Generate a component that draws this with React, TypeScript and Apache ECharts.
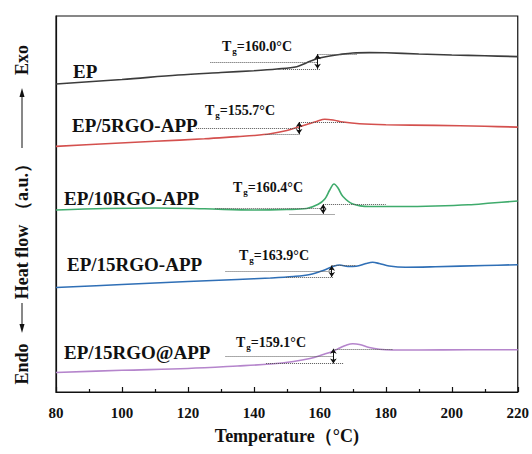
import React, { useEffect, useRef } from 'react';
import * as echarts from 'echarts';

// ---- data (temperature in °C, heat flow in arbitrary units, curves offset) ----
const sampleNames = ['EP', 'EP/5RGO-APP', 'EP/10RGO-APP', 'EP/15RGO-APP', 'EP/15RGO@APP'];
const tgValues = ['160.0', '155.7', '160.4', '163.9', '159.1'];
const xTicks = [80, 100, 120, 140, 160, 180, 200, 220];

const tEP = [80, 100, 117, 130, 140, 147, 153, 156, 159.5, 163, 166, 170, 175, 180, 190, 200, 210, 220];
const hfEP = [308, 312.5, 317, 319.5, 321.3, 323, 325.3, 329.3, 333.7, 336, 337.5, 339, 339.4, 339.2, 338, 337, 336.2, 335.4];

const t5 = [80, 95, 110, 125, 135, 140, 145, 150, 153, 156, 159, 161.5, 164, 167, 172, 180, 195, 210, 220];
const hf5 = [245.6, 248.2, 250.7, 253.2, 255.4, 256.5, 258.3, 261.5, 264.5, 267.5, 270.5, 272.8, 272, 270, 268.2, 267.2, 266.6, 265.7, 264.9];

const t10 = [80, 95, 110, 125, 140, 150, 156, 159.5, 161.5, 163, 164.3, 165.5, 167, 170, 175, 185, 195, 205, 212, 220];
const hf10 = [182, 183.5, 184, 183.2, 182, 182.5, 183.5, 187.7, 193, 202, 208, 204, 195.5, 188, 185.5, 185.5, 186, 187.2, 189, 191];

const t15 = [80, 100, 120, 135, 145, 152, 157, 161, 164, 166, 168.5, 171, 174, 176, 178, 181, 186, 195, 210, 220];
const hf15 = [104.5, 107.5, 110.5, 112.5, 114, 115.5, 117.5, 121.5, 125.5, 127, 125.5, 125.7, 128.5, 129.7, 128.5, 126, 124.7, 125.2, 126.5, 127.3];

const t15at = [80, 100, 120, 135, 145, 152, 157, 161, 164, 166, 168, 170, 172, 175, 178, 182, 190, 205, 220];
const hf15at = [19.5, 21.7, 23.5, 26, 28, 30.5, 33.5, 37.5, 40.8, 44, 46.8, 48.2, 47.5, 44.5, 42.7, 42, 42, 42.2, 42.2];

// Tg construction lines
const arrowT = [159.3, 153.7, 161, 163.6, 164.1];
const upperLevel = [337.8, 270, 187.7, 126.3, 43.2];
const lowerLevel = [323.2, 258.1, 178.2, 115.1, 28.6];
const longLevel = [330, 263.9, 183.6, 121.2, 35.8];
const longStart = [126.8, 122.4, 128.3, 131.4, 131.4];
const upperEnd = [171.3, 167.7, 180, 171, 182];
const lowerStart = [148.8, 143.5, 150.8, 149.8, 143.7];
const lowerEnd = [160, 154, 164.6, 164, 167.2];

const temps = [tEP, t5, t10, t15, t15at];
const flows = [hfEP, hf5, hf10, hf15, hf15at];
const colors = ['#3c3c3c', '#d4504e', '#3fab6c', '#2f6fb6', '#b585cc'];

const SERIF = '"Liberation Serif", "Times New Roman", serif';

// label placement (pixels)
const nameLabelPos = [[73, 71], [72, 125], [64, 198], [67, 264], [64, 352]];
const tgLabelPos = [[222, 46], [205, 110], [233, 187], [239, 255], [236, 342]];

export default function App() {
  const ref = useRef<HTMLDivElement>(null);
  useEffect(() => {
    if (!ref.current) return;
    const chart = echarts.init(ref.current, undefined, { renderer: 'svg' });

    const series: any[] = sampleNames.map((name, i) => ({
      name,
      type: 'line',
      data: temps[i].map((t, k) => [t, flows[i][k]]),
      showSymbol: false,
      smooth: 0.35,
      lineStyle: { color: colors[i], width: 1.6 },
      itemStyle: { color: colors[i] },
      z: 3,
      markLine: {
        silent: true,
        symbol: ['none', 'none'],
        label: { show: false },
        lineStyle: { type: 'dotted', color: '#555', width: 1 },
        data: [
          [{ coord: [longStart[i], longLevel[i]] }, { coord: [arrowT[i], longLevel[i]] }],
          [{ coord: [arrowT[i], upperLevel[i]] }, { coord: [upperEnd[i], upperLevel[i]] }],
          [{ coord: [lowerStart[i], lowerLevel[i]] }, { coord: [lowerEnd[i], lowerLevel[i]] }],
          [
            { coord: [arrowT[i], upperLevel[i]], symbol: 'arrow', symbolSize: [5, 5], lineStyle: { type: 'solid', color: '#111', width: 1 } },
            { coord: [arrowT[i], lowerLevel[i]], symbol: 'arrow', symbolSize: [5, 5] },
          ],
        ],
      },
    }));

    const graphics: any[] = [];
    sampleNames.forEach((name, i) => {
      graphics.push({
        type: 'text',
        x: nameLabelPos[i][0],
        y: nameLabelPos[i][1],
        style: {
          text: name,
          font: `bold 19px ${SERIF}`,
          fill: '#111',
          align: 'left',
          verticalAlign: 'middle',
        },
      });
      graphics.push({
        type: 'text',
        x: tgLabelPos[i][0],
        y: tgLabelPos[i][1],
        style: {
          text: `{t|T}{s|g}{t|=${tgValues[i]}°C}`,
          align: 'left',
          verticalAlign: 'middle',
          rich: {
            t: { fontFamily: SERIF, fontWeight: 'bold', fontSize: 14, fill: '#111' },
            s: { fontFamily: SERIF, fontWeight: 'bold', fontSize: 9, fill: '#111', padding: [9, 0, 0, 1] },
          },
        },
      });
    });

    // y-axis title pieces
    const yx = 22;
    const rotText = (text: string, y: number) => ({
      type: 'text',
      x: yx,
      y,
      rotation: Math.PI / 2,
      style: { text, font: `bold 18px ${SERIF}`, fill: '#111', align: 'center', verticalAlign: 'middle' },
    });
    graphics.push(rotText('Exo', 60));
    graphics.push(rotText('（a.u.）', 187));
    graphics.push(rotText('Heat flow', 262));
    graphics.push(rotText('Endo', 364));
    graphics.push({ type: 'line', shape: { x1: yx, y1: 148, x2: yx, y2: 95 }, style: { stroke: '#111', lineWidth: 1 } });
    graphics.push({ type: 'polygon', shape: { points: [[yx, 88], [yx - 2.5, 97], [yx + 2.5, 97]] }, style: { fill: '#111' } });
    graphics.push({ type: 'line', shape: { x1: yx, y1: 303, x2: yx, y2: 326 }, style: { stroke: '#111', lineWidth: 1 } });
    graphics.push({ type: 'polygon', shape: { points: [[yx, 333], [yx - 2.5, 324], [yx + 2.5, 324]] }, style: { fill: '#111' } });

    chart.setOption({
      animation: false,
      backgroundColor: '#fff',
      grid: { left: 56, right: 11, top: 16, bottom: 62, show: true, borderColor: '#111', borderWidth: 1.2, backgroundColor: 'transparent' },
      xAxis: {
        type: 'value',
        min: xTicks[0],
        max: xTicks[xTicks.length - 1],
        interval: 20,
        axisLine: { show: true, lineStyle: { color: '#111', width: 1.2 } },
        axisTick: { show: true, inside: true, length: 5, lineStyle: { color: '#111', width: 1.2 } },
        minorTick: { show: true, splitNumber: 2, length: 3, lineStyle: { color: '#111', width: 1.2 } },
        splitLine: { show: false },
        axisLabel: { color: '#111', fontFamily: SERIF, fontWeight: 'bold', fontSize: 15, margin: 13 },
        name: 'Temperature（°C)',
        nameLocation: 'middle',
        nameGap: 35,
        nameTextStyle: { color: '#111', fontFamily: SERIF, fontWeight: 'bold', fontSize: 18 },
      },
      yAxis: {
        type: 'value',
        min: 0,
        max: 376,
        axisLine: { show: true, lineStyle: { color: '#111', width: 1.2 } },
        axisTick: { show: false },
        axisLabel: { show: false },
        splitLine: { show: false },
      },
      series,
      graphic: graphics,
    });
    return () => chart.dispose();
  }, []);
  return <div ref={ref} style={{ position: 'absolute', left: 0, top: 0, width: 532, height: 454 }} />;
}
